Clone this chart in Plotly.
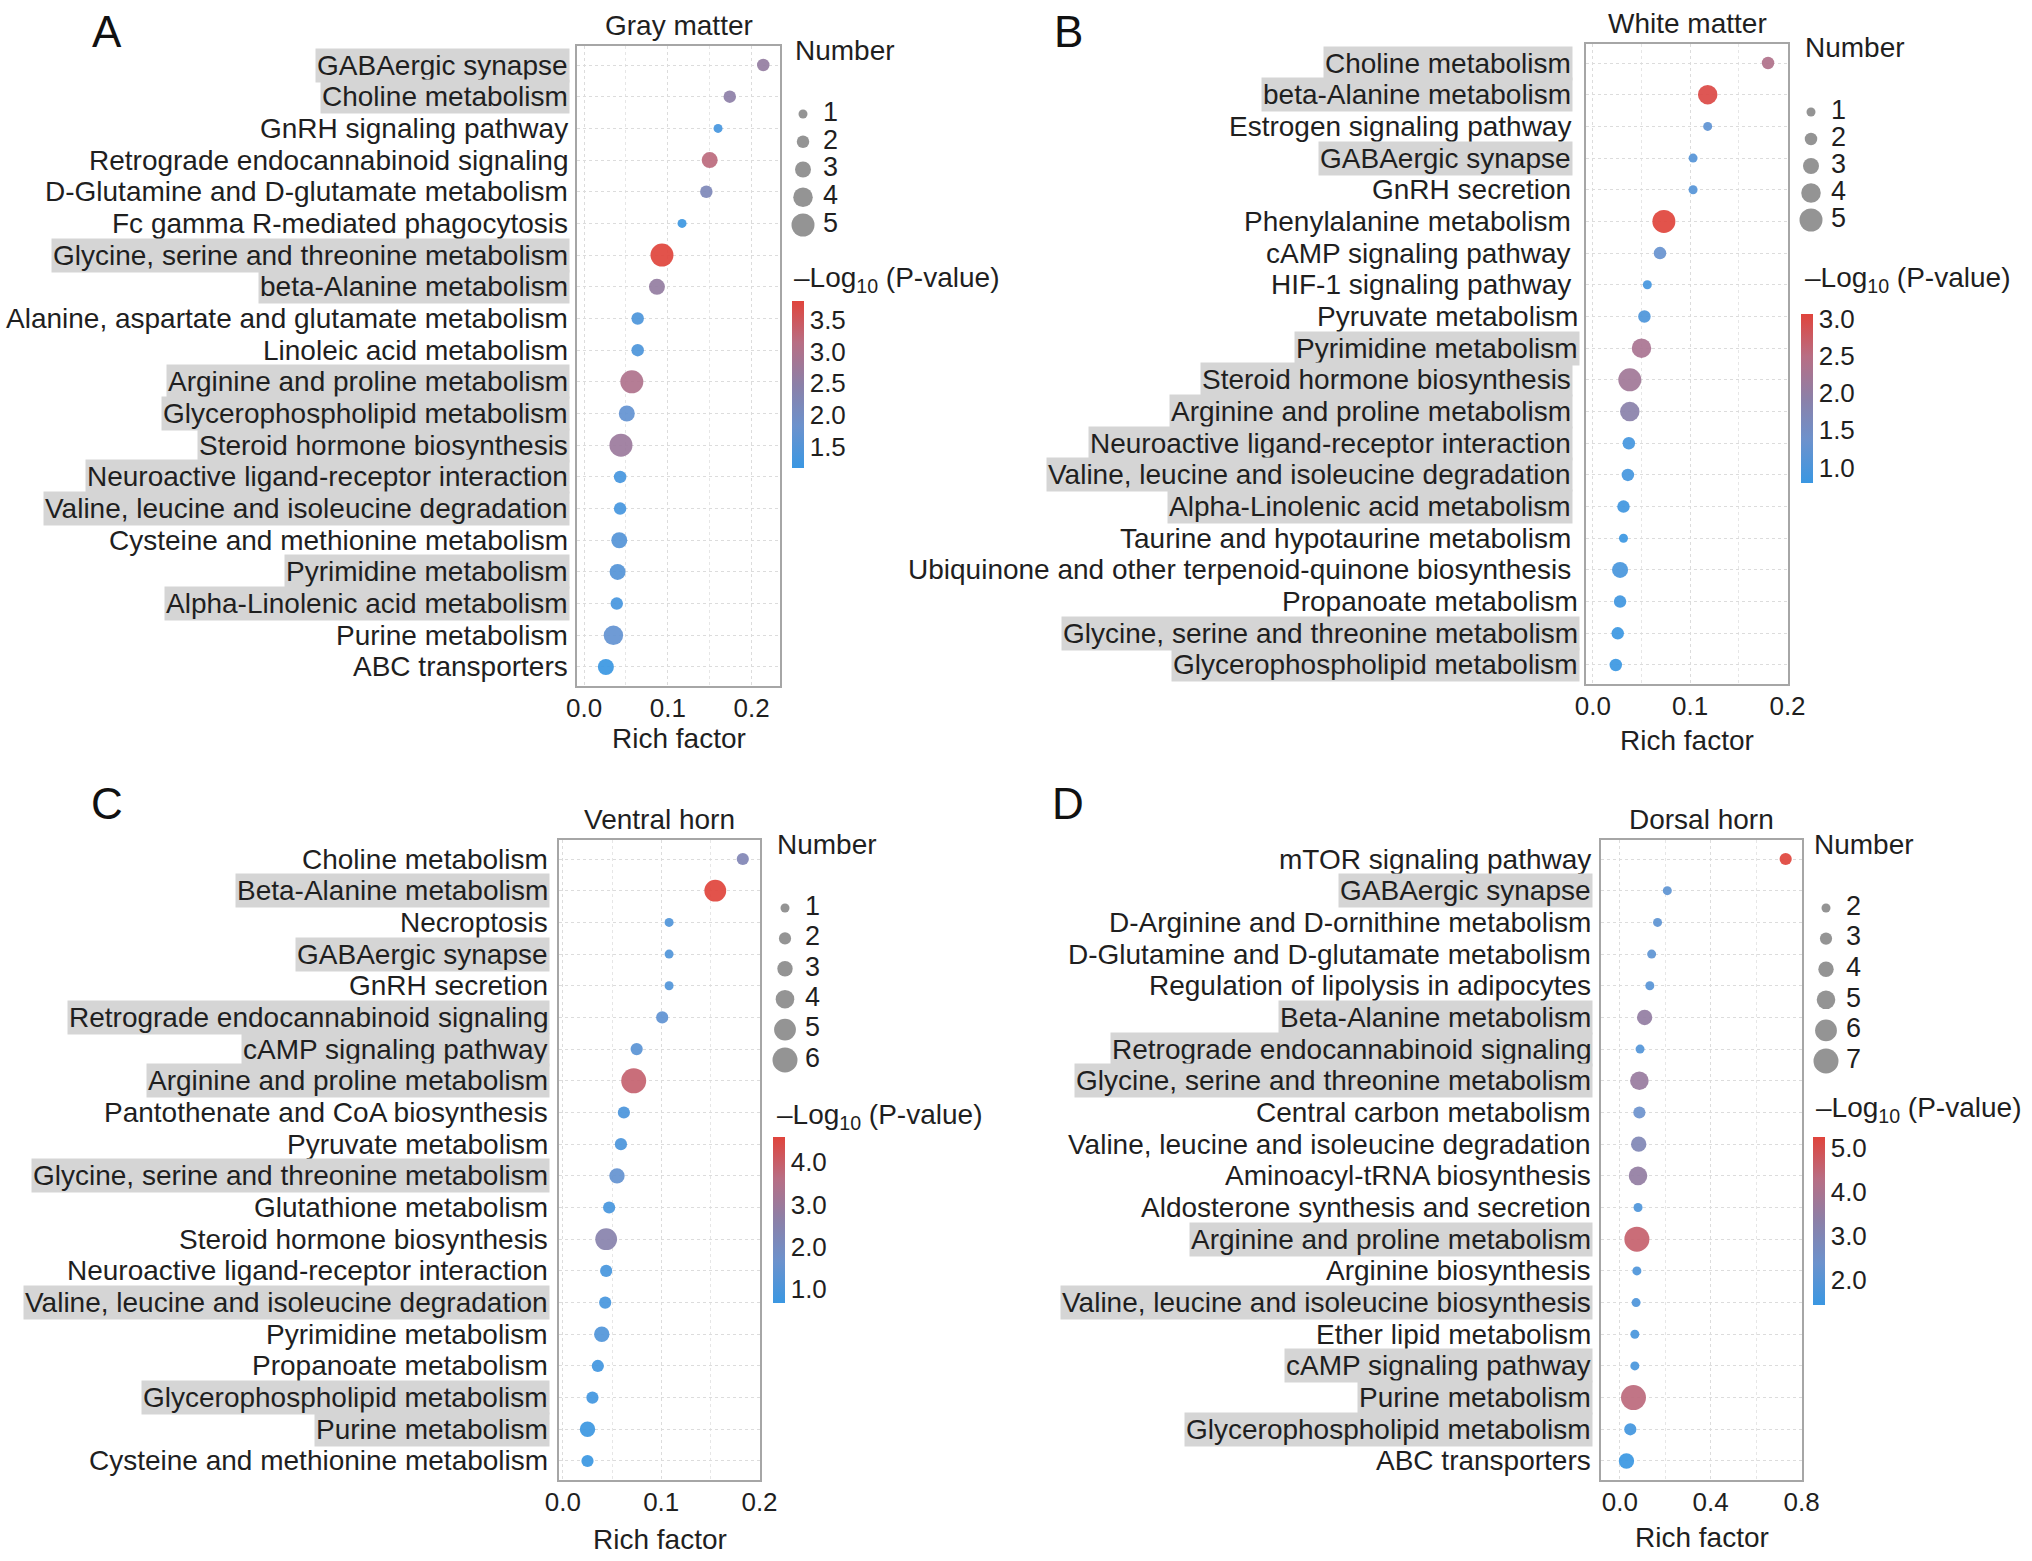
import plotly.graph_objects as go

W, H = 2032, 1561
FONT = "Liberation Sans, Arial, sans-serif"
TXT = "#1f1f1f"

# ---------------- Panel A : Gray matter ----------------
terms_A = ["GABAergic synapse", "Choline metabolism", "GnRH signaling pathway",
           "Retrograde endocannabinoid signaling", "D-Glutamine and D-glutamate metabolism",
           "Fc gamma R-mediated phagocytosis", "Glycine, serine and threonine metabolism",
           "beta-Alanine metabolism", "Alanine, aspartate and glutamate metabolism",
           "Linoleic acid metabolism", "Arginine and proline metabolism",
           "Glycerophospholipid metabolism", "Steroid hormone biosynthesis",
           "Neuroactive ligand-receptor interaction", "Valine, leucine and isoleucine degradation",
           "Cysteine and methionine metabolism", "Pyrimidine metabolism",
           "Alpha-Linolenic acid metabolism", "Purine metabolism", "ABC transporters"]
rich_A = [0.214, 0.174, 0.160, 0.150, 0.146, 0.117, 0.093, 0.087, 0.064, 0.064,
          0.057, 0.051, 0.044, 0.043, 0.043, 0.042, 0.040, 0.039, 0.035, 0.026]
count_A = [2, 2, 1, 3, 2, 1, 5, 3, 2, 2, 5, 3, 5, 2, 2, 3, 3, 2, 4, 3]
logp_A = [2.6, 2.5, 1.3, 3.2, 2.2, 1.2, 3.8, 2.6, 1.4, 1.4,
          3.0, 1.7, 2.7, 1.3, 1.3, 1.5, 1.5, 1.3, 1.7, 1.16]
hl_A = [1, 1, 0, 0, 0, 0, 1, 1, 0, 0, 1, 1, 1, 1, 1, 0, 1, 1, 0, 0]
xticks_A = [0.0, 0.1, 0.2]
cticks_A = [1.5, 2.0, 2.5, 3.0, 3.5]
sizes_A = [1, 2, 3, 4, 5]

# ---------------- Panel B : White matter ----------------
terms_B = ["Choline metabolism", "beta-Alanine metabolism", "Estrogen signaling pathway",
           "GABAergic synapse", "GnRH secretion", "Phenylalanine metabolism",
           "cAMP signaling pathway", "HIF-1 signaling pathway", "Pyruvate metabolism",
           "Pyrimidine metabolism", "Steroid hormone biosynthesis",
           "Arginine and proline metabolism", "Neuroactive ligand-receptor interaction",
           "Valine, leucine and isoleucine degradation", "Alpha-Linolenic acid metabolism",
           "Taurine and hypotaurine metabolism",
           "Ubiquinone and other terpenoid-quinone biosynthesis", "Propanoate metabolism",
           "Glycine, serine and threonine metabolism", "Glycerophospholipid metabolism"]
rich_B = [0.180, 0.118, 0.118, 0.103, 0.103, 0.073, 0.069, 0.056, 0.053, 0.050,
          0.038, 0.038, 0.037, 0.036, 0.0315, 0.0315, 0.028, 0.028, 0.0256, 0.0236]
count_B = [2, 4, 1, 1, 1, 5, 2, 1, 2, 4, 5, 4, 2, 2, 2, 1, 3, 2, 2, 2]
logp_B = [2.4, 3.0, 1.2, 1.1, 1.1, 3.07, 1.3, 0.9, 1.0, 2.3,
          2.2, 1.9, 0.9, 0.9, 0.85, 0.8, 0.95, 0.85, 0.8, 0.79]
hl_B = [1, 1, 0, 1, 0, 0, 0, 0, 0, 1, 1, 1, 1, 1, 1, 0, 0, 0, 1, 1]
xticks_B = [0.0, 0.1, 0.2]
cticks_B = [1.0, 1.5, 2.0, 2.5, 3.0]
sizes_B = [1, 2, 3, 4, 5]

# ---------------- Panel C : Ventral horn ----------------
terms_C = ["Choline metabolism", "Beta-Alanine metabolism", "Necroptosis", "GABAergic synapse",
           "GnRH secretion", "Retrograde endocannabinoid signaling", "cAMP signaling pathway",
           "Arginine and proline metabolism", "Pantothenate and CoA biosynthesis",
           "Pyruvate metabolism", "Glycine, serine and threonine metabolism",
           "Glutathione metabolism", "Steroid hormone biosynthesis",
           "Neuroactive ligand-receptor interaction",
           "Valine, leucine and isoleucine degradation", "Pyrimidine metabolism",
           "Propanoate metabolism", "Glycerophospholipid metabolism", "Purine metabolism",
           "Cysteine and methionine metabolism"]
rich_C = [0.183, 0.155, 0.108, 0.108, 0.108, 0.101, 0.075, 0.072, 0.062, 0.059,
          0.055, 0.047, 0.044, 0.044, 0.043, 0.0395, 0.0355, 0.030, 0.025, 0.025]
count_C = [2, 5, 1, 1, 1, 2, 2, 6, 2, 2, 3, 2, 5, 2, 2, 3, 2, 2, 3, 2]
logp_C = [2.3, 4.6, 1.1, 1.1, 1.1, 1.4, 1.3, 3.9, 1.0, 1.0,
          1.5, 0.9, 2.5, 0.9, 0.9, 1.1, 0.8, 0.8, 0.7, 0.67]
hl_C = [0, 1, 0, 1, 0, 1, 1, 1, 0, 0, 1, 0, 0, 0, 1, 0, 0, 1, 1, 0]
xticks_C = [0.0, 0.1, 0.2]
cticks_C = [1.0, 2.0, 3.0, 4.0]
sizes_C = [1, 2, 3, 4, 5, 6]

# ---------------- Panel D : Dorsal horn ----------------
terms_D = ["mTOR signaling pathway", "GABAergic synapse",
           "D-Arginine and D-ornithine metabolism", "D-Glutamine and D-glutamate metabolism",
           "Regulation of lipolysis in adipocytes", "Beta-Alanine metabolism",
           "Retrograde endocannabinoid signaling", "Glycine, serine and threonine metabolism",
           "Central carbon metabolism", "Valine, leucine and isoleucine degradation",
           "Aminoacyl-tRNA biosynthesis", "Aldosterone synthesis and secretion",
           "Arginine and proline metabolism", "Arginine biosynthesis",
           "Valine, leucine and isoleucine biosynthesis", "Ether lipid metabolism",
           "cAMP signaling pathway", "Purine metabolism", "Glycerophospholipid metabolism",
           "ABC transporters"]
rich_D = [0.730, 0.209, 0.166, 0.140, 0.132, 0.109, 0.089, 0.086, 0.086, 0.083,
          0.080, 0.080, 0.075, 0.075, 0.0715, 0.066, 0.066, 0.060, 0.046, 0.029]
count_D = [3, 2, 2, 2, 2, 4, 2, 5, 3, 4, 5, 2, 7, 2, 2, 2, 2, 7, 3, 4]
logp_D = [5.25, 2.1, 2.1, 2.1, 2.0, 3.5, 1.9, 3.6, 2.4, 3.0,
          3.5, 1.8, 4.6, 1.8, 1.8, 1.7, 1.7, 4.4, 1.6, 1.44]
hl_D = [0, 1, 0, 0, 0, 1, 1, 1, 0, 0, 0, 0, 1, 0, 1, 0, 1, 1, 1, 0]
xticks_D = [0.0, 0.4, 0.8]
cticks_D = [2.0, 3.0, 4.0, 5.0]
sizes_D = [2, 3, 4, 5, 6, 7]

COLORSCALE = [[0.0, "#3A97E2"], [0.25, "#6C92CD"], [0.5, "#8C80A8"],
              [0.75, "#B86E84"], [1.0, "#E0443C"]]

# layout (pixel) settings for each panel
panels = [
    dict(letter="A", title="Gray matter", terms=terms_A, rich=rich_A, count=count_A,
         logp=logp_A, hl=hl_A, xticks=xticks_A, cticks=cticks_A, sizes=sizes_A,
         box=(577, 46, 780, 686), xr=(-0.0085, 0.234), minor=0.05, dmax=23, gap=7,
         nudge={}, letter_xy=(107, 31), num_xy=(793, 50), log_xy=(792, 279),
         leg_x=803, leg_y=(114, 225), cb=(792, 301, 468), rf_y=738),
    dict(letter="B", title="White matter", terms=terms_B, rich=rich_B, count=count_B,
         logp=logp_B, hl=hl_B, xticks=xticks_B, cticks=cticks_B, sizes=sizes_B,
         box=(1586, 44, 1788, 684), xr=(-0.007, 0.2005), minor=0.05, dmax=23, gap=13,
         nudge={8: 7, 9: 7, 17: 7, 18: 7, 19: 7},
         letter_xy=(1068, 32), num_xy=(1803, 47), log_xy=(1803, 279),
         leg_x=1811, leg_y=(112, 220), cb=(1801, 314, 483), rf_y=740),
    dict(letter="C", title="Ventral horn", terms=terms_C, rich=rich_C, count=count_C,
         logp=logp_C, hl=hl_C, xticks=xticks_C, cticks=cticks_C, sizes=sizes_C,
         box=(559, 840, 760, 1480), xr=(-0.004, 0.2005), minor=0.05, dmax=25, gap=9,
         nudge={}, letter_xy=(107, 803), num_xy=(775, 845), log_xy=(775, 1116),
         leg_x=785, leg_y=(908, 1060), cb=(773, 1137, 1303), rf_y=1539),
    dict(letter="D", title="Dorsal horn", terms=terms_D, rich=rich_D, count=count_D,
         logp=logp_D, hl=hl_D, xticks=xticks_D, cticks=cticks_D, sizes=sizes_D,
         box=(1601, 840, 1802, 1480), xr=(-0.083, 0.802), minor=0.2, dmax=25, gap=8,
         nudge={}, letter_xy=(1068, 803), num_xy=(1812, 845), log_xy=(1814, 1109),
         leg_x=1826, leg_y=(908, 1061), cb=(1813, 1137, 1305), rf_y=1537),
]

DMIN = 9


def diam(n, nmin, nmax, dmax):
    return DMIN + (n - nmin) / (nmax - nmin) * (dmax - DMIN)


def px(x):
    return x / W


def py(y):
    return 1 - y / H


fig = go.Figure()
layout = dict(width=W, height=H,
              margin=dict(l=0, r=0, t=0, b=0, pad=0, autoexpand=False), autosize=False,
              paper_bgcolor="white", plot_bgcolor="white", showlegend=False,
              font=dict(family=FONT, size=26, color=TXT))
annotations = []

GRID = dict(showgrid=True, gridcolor="#dcdcdc", griddash="dot", gridwidth=1.3)
LBL = 28

for i, p in enumerate(panels):
    k = i + 1
    kl = i + 5
    sx = "" if k == 1 else str(k)
    x0, y0, x1, y1 = p["box"]
    n = len(p["terms"])
    nmin, nmax = min(p["sizes"]), max(p["sizes"])

    # main dot plot
    fig.add_trace(go.Scatter(
        x=p["rich"], y=p["terms"], mode="markers", xaxis="x" + sx, yaxis="y" + sx,
        marker=dict(size=[diam(c, nmin, nmax, p["dmax"]) for c in p["count"]],
                    color=p["logp"], colorscale=COLORSCALE, opacity=0.92,
                    line=dict(width=0), showscale=True,
                    colorbar=dict(x=px(p["cb"][0]), xanchor="left", y=py(p["cb"][1]),
                                  yanchor="top", len=p["cb"][2] - p["cb"][1], lenmode="pixels",
                                  thickness=12, thicknessmode="pixels", outlinewidth=0,
                                  xpad=0, ypad=0, ticks="", tickvals=p["cticks"],
                                  tickformat=".1f", tickfont=dict(size=26, color=TXT))),
        cliponaxis=False, hoverinfo="skip"))

    layout["xaxis" + sx] = dict(
        domain=[px(x0), px(x1)], anchor="y" + sx, range=list(p["xr"]),
        tickvals=p["xticks"], tickformat=".1f", ticks="", ticklabelstandoff=-2,
        tickfont=dict(size=26, color=TXT), automargin=False,
        showline=True, mirror=True, linecolor="#a6a6a6", linewidth=1.6,
        zeroline=False, **GRID,
        minor=dict(dtick=p["minor"], tick0=0, showgrid=True, gridcolor="#e6e6e6",
                   griddash="dot", gridwidth=1.1))
    layout["yaxis" + sx] = dict(
        domain=[py(y1), py(y0)], anchor="x" + sx, type="category",
        categoryorder="array", categoryarray=p["terms"], range=[n - 0.4, -0.6],
        showticklabels=False, ticks="", showline=True, mirror=True, automargin=False,
        linecolor="#a6a6a6", linewidth=1.6, zeroline=False, **GRID)

    # pathway labels (gray background = highlighted)
    for j, (t, h) in enumerate(zip(p["terms"], p["hl"])):
        annotations.append(dict(
            x=0, xref="x" + sx + " domain", y=j, yref="y" + sx, text=t,
            xanchor="right", yanchor="middle", xshift=-p["gap"] + p["nudge"].get(j, 0),
            showarrow=False, font=dict(size=LBL, color=TXT), borderpad=1,
            bgcolor="#D5D5D5" if h else "rgba(0,0,0,0)"))

    # panel title above the box
    annotations.append(dict(x=0.5, xref="x" + sx + " domain", y=1, yref="y" + sx + " domain",
                            text=p["title"], showarrow=False, xanchor="center",
                            yanchor="bottom", yshift=3, font=dict(size=LBL, color=TXT)))
    # x-axis title
    annotations.append(dict(x=0.5, xref="x" + sx + " domain", y=py(p["rf_y"]), yref="paper",
                            text="Rich factor", showarrow=False, xanchor="center",
                            yanchor="middle", font=dict(size=LBL, color=TXT)))
    # panel letter
    annotations.append(dict(x=px(p["letter_xy"][0]), y=py(p["letter_xy"][1]), xref="paper",
                            yref="paper", text=p["letter"], showarrow=False,
                            xanchor="center", yanchor="middle",
                            font=dict(size=44, color="#111111")))
    # legend titles
    annotations.append(dict(x=px(p["num_xy"][0]), y=py(p["num_xy"][1]), xref="paper",
                            yref="paper", text="Number", showarrow=False, xanchor="left",
                            yanchor="middle", font=dict(size=LBL, color=TXT)))
    annotations.append(dict(x=px(p["log_xy"][0]), y=py(p["log_xy"][1]), xref="paper",
                            yref="paper", text="\u2013Log<sub>10</sub> (P-value)",
                            showarrow=False, xanchor="left", yanchor="middle",
                            font=dict(size=LBL, color=TXT)))

    # size legend on its own small axes
    sl = str(kl)
    lx = p["leg_x"]
    fig.add_trace(go.Scatter(
        x=[0] * len(p["sizes"]), y=p["sizes"], mode="markers", xaxis="x" + sl, yaxis="y" + sl,
        marker=dict(size=[diam(s, nmin, nmax, p["dmax"]) for s in p["sizes"]],
                    color="#666666", line=dict(width=0)),
        cliponaxis=False, hoverinfo="skip"))
    fig.add_trace(go.Scatter(
        x=[1] * len(p["sizes"]), y=p["sizes"], mode="text", xaxis="x" + sl, yaxis="y" + sl,
        text=[str(s) for s in p["sizes"]], textposition="middle right",
        textfont=dict(size=27, color=TXT), cliponaxis=False, hoverinfo="skip"))
    layout["xaxis" + sl] = dict(domain=[px(lx - 10), px(lx + 70)], range=[-0.5, 3.5],
                                anchor="y" + sl, visible=False, fixedrange=True)
    layout["yaxis" + sl] = dict(domain=[py(p["leg_y"][1]), py(p["leg_y"][0])],
                                range=[nmax, nmin], anchor="x" + sl, visible=False,
                                fixedrange=True)

layout["annotations"] = annotations
fig.update_layout(**layout)
fig.write_html("out.html",
               config={"responsive": False, "displayModeBar": False},
               post_script="document.body.style.margin='0px';document.body.style.overflow='hidden';")
